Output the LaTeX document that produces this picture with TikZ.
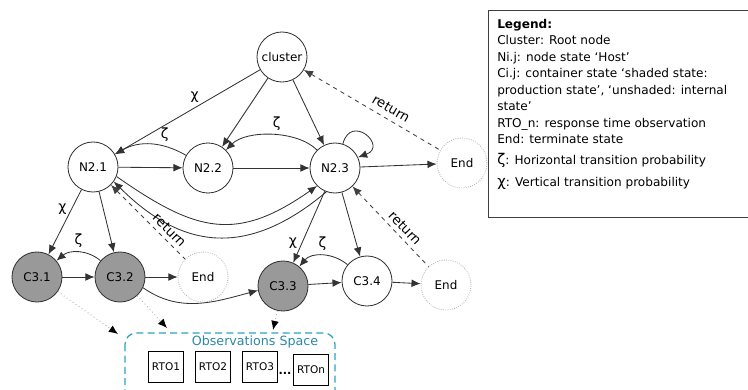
\documentclass[tikz,border=0pt]{standalone}
\usepackage{fontspec}
\setmainfont{DejaVu Sans}
\usetikzlibrary{arrows.meta}

\definecolor{obsblue}{RGB}{40,165,195}
\definecolor{obstext}{RGB}{45,135,165}

\begin{document}
\begin{tikzpicture}[x=0.025cm,y=0.025cm,
    >={Latex[length=6.5pt,width=5.5pt]},
    host/.style={circle,draw=black!80,line width=0.6pt,minimum size=1.25cm,inner sep=0pt,font=\fontsize{8.5}{10}\selectfont},
    prodcont/.style={host,fill=gray!80},
    term/.style={host,draw=gray!60,densely dotted},
    edg/.style={->,line width=0.6pt,draw=black!80},
    retedge/.style={<-,dashed,line width=0.6pt,draw=black!75},
    obsedge/.style={-{Latex[length=6.5pt,width=5.5pt,color=black]},dotted,line width=0.6pt,draw=gray!70},
    prob/.style={font=\fontsize{10}{12}\selectfont},
    lbl/.style={font=\fontsize{9.5}{11}\selectfont,inner sep=3pt},
    rto/.style={draw,line width=0.6pt,minimum width=0.875cm,minimum height=0.78cm,inner sep=0pt,font=\fontsize{7.5}{9}\selectfont}]
    \useasboundingbox (0,0) rectangle (748,389);

    % Nodes
    \node[host]     (cl)  at (282,332) {cluster};
    \node[host]     (n21) at (93,222)  {N2.1};
    \node[host]     (n22) at (208,221) {N2.2};
    \node[host]     (n23) at (335,221) {N2.3};
    \node[term]     (e1)  at (462,226) {End};
    \node[prodcont] (c31) at (37,112)  {C3.1};
    \node[prodcont] (c32) at (120,112) {C3.2};
    \node[term]     (e2)  at (203,112) {End};
    \node[prodcont] (c33) at (283,103) {C3.3};
    \node[host]     (c34) at (367,108) {C3.4};
    \node[term]     (e3)  at (446,104) {End};

    % Observations
    \draw[obsblue,dashed,dash pattern=on 5pt off 3pt,line width=0.9pt,rounded corners=8pt]
        (125,56) rectangle (335,-15);
    \node[text=obstext,font=\fontsize{9}{11}\selectfont] (obs) at (255,47) {Observations Space};
    \node[rto] (r1) at (166,22) {RTO1};
    \node[rto] (r2) at (213,22) {RTO2};
    \node[rto] (r3) at (260,22) {RTO3};
    \node[rto] (rn) at (311,19) {RTOn};
    \node[font=\bfseries\fontsize{8}{9}\selectfont,inner sep=0pt] (dots) at (285,16) {...};
    \coordinate (o1) at (118,55);
    \coordinate (o2) at (167,61);
    \coordinate (o3) at (273,59);

    % Edges
    \draw[edg] (cl) -- node[prob,pos=0.45,above]{χ} (n21);
    \draw[edg] (cl) -- (n22);
    \draw[edg] (cl) -- (n23);
    \draw[retedge] (cl) -- node[lbl,sloped,pos=0.6,above=1pt]{return} (e1);
    \draw[edg] (n21) -- (n22);
    \draw[edg] (n22) -- (n23);
    \draw[edg] (n23) -- (e1);
    \draw[edg] (n22) to[out=150,in=30] node[prob,pos=0.3,above]{ζ} (n21);
    \draw[edg] (n23) to[out=135,in=45,looseness=0.8] node[prob,pos=0.45,above]{ζ} (n22);
    \draw[edg] (n23.72) .. controls +(75:32) and +(20:32) .. (n23.25);
    \draw[edg] (n21.-22) to[out=-35,in=215,looseness=1.25] (n23.225);
    \draw[edg] (n23.250) to[out=220,in=-45,looseness=1.2] (n21.-35);
    \draw[edg] (n21) -- node[prob,pos=0.3,left]{χ} (c31);
    \draw[edg] (n21) -- (c32);
    \draw[retedge] (n21) -- node[lbl,sloped,pos=0.7,above]{return} (e2);
    \draw[edg] (c32) to[out=140,in=40] node[prob,midway,above]{ζ} (c31);
    \draw[edg] (c31) -- (c32);
    \draw[edg] (c32) -- (e2);
    \draw[edg] (c32.-25) to[out=-35,in=195] (c33.190);
    \draw[edg] (n23) -- node[prob,pos=0.72,left]{χ} (c33);
    \draw[edg] (n23) -- (c34);
    \draw[retedge] (n23) -- node[lbl,sloped,pos=0.6,above]{return} (e3);
    \draw[edg] (c34) to[out=140,in=50] node[prob,midway,above]{ζ} (c33);
    \draw[edg] (c33) -- (c34);
    \draw[edg] (c34) -- (e3);
    \draw[obsedge] (c31) -- (o1);
    \draw[obsedge] (c32) -- (o2);
    \draw[obsedge] (c33) -- (o3);

    % Legend
    \draw[black!75,line width=0.7pt] (488,379) rectangle (760,172);
    \node[anchor=north west,align=left,inner sep=0pt,font=\fontsize{8.6}{11.7}\selectfont] (legend) at (497,370)
        {\textbf{Legend:}\\
         Cluster: Root node\\
         Ni.j: node state ‘Host’\\
         Ci.j: container state ‘shaded state:\\
         production state’, ‘unshaded: internal\\
         state’\\
         RTO\_n: response time observation\\
         End: terminate state\\[3pt]
         {\fontsize{10.5}{11}\selectfont ζ}: Horizontal transition probability\\[4pt]
         {\fontsize{10.5}{11}\selectfont χ}: Vertical transition probability};
\end{tikzpicture}
\end{document}
